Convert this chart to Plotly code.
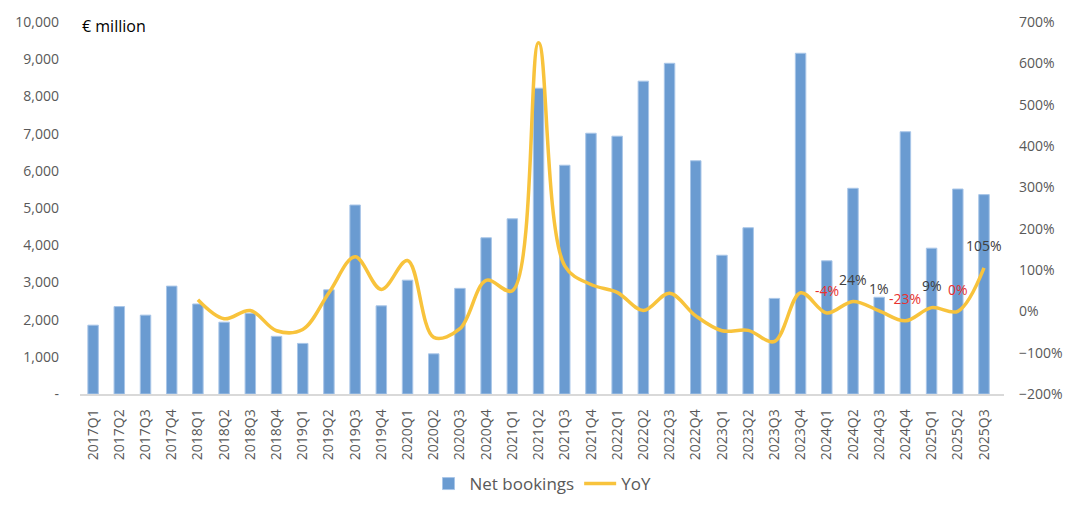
import plotly.graph_objects as go

quarters = [f"{y}Q{q}" for y in range(2017, 2026) for q in range(1, 5)][:35]

net_bookings = [1850, 2350, 2120, 2900,
                2420, 1930, 2170, 1550,
                1360, 2800, 5080, 2370,
                3060, 1080, 2840, 4200,
                4710, 8220, 6150, 7010,
                6930, 8410, 8890, 6270,
                3730, 4470, 2570, 9160,
                3580, 5530, 2600, 7050,
                3920, 5510, 5360]

yoy_quarters = quarters[4:]
yoy = [0.28, -0.18, 0.02, -0.47,
       -0.44, 0.45, 1.32, 0.53,
       1.23, -0.63, -0.42, 0.75,
       0.50, 6.50, 1.10, 0.65,
       0.46, 0.02, 0.44, -0.11,
       -0.47, -0.46, -0.73, 0.45,
       -0.04, 0.24, 0.01, -0.23,
       0.09, 0.00, 1.05]

label_quarters = ["2024Q1", "2024Q2", "2024Q3", "2024Q4", "2025Q1", "2025Q2", "2025Q3"]
label_values = [-0.04, 0.24, 0.01, -0.23, 0.09, 0.00, 1.05]
label_texts = ["-4%", "24%", "1%", "-23%", "9%", "0%", "105%"]

left_ticks = list(range(0, 10001, 1000))
left_ticktext = ["-"] + [f"{v:,}" for v in left_ticks[1:]]

BLUE = "#6A9BD1"
GOLD = "#F8C33C"
RED = "#E8322F"
GRAY = "#595959"
FONT = "Open Sans"

fig = go.Figure()
fig.add_trace(go.Bar(
    x=quarters, y=net_bookings, name="Net bookings",
    marker=dict(color=BLUE, line=dict(color="#A9C6E8", width=1)),
    yaxis="y",
))
fig.add_trace(go.Scatter(
    x=yoy_quarters, y=yoy, name="YoY", mode="lines",
    line=dict(color=GOLD, width=3.5, shape="spline", smoothing=1.0),
    yaxis="y2",
))

for q, v, t in zip(label_quarters, label_values, label_texts):
    color = RED if t.startswith("-") or t == "0%" else "#404040"
    fig.add_annotation(
        x=q, y=v, xref="x", yref="y2", text=t, showarrow=False,
        yshift=22, font=dict(family=FONT, size=14, color=color),
    )

fig.add_annotation(
    x=0, y=1.0, xref="paper", yref="paper", xanchor="left", yanchor="middle",
    text="€ million", showarrow=False, yshift=-4,
    font=dict(family=FONT, size=16, color="#000000"),
)

fig.update_layout(
    width=1080, height=506,
    margin=dict(l=80, r=76, t=22, b=112, autoexpand=False),
    plot_bgcolor="white", paper_bgcolor="white",
    bargap=0.6,
    font=dict(family=FONT, size=14, color=GRAY),
    showlegend=True,
    legend=dict(orientation="h", x=0.5, xanchor="center",
                yref="container", y=22 / 506, yanchor="middle",
                font=dict(family=FONT, size=17, color=GRAY), itemwidth=32),
    xaxis=dict(
        type="category", tickangle=-90, showgrid=False,
        showline=True, linecolor="#D9D9D9", linewidth=1.5,
        ticks="", ticklabelstandoff=8, automargin=False,
        tickfont=dict(family=FONT, size=14, color=GRAY),
    ),
    yaxis=dict(
        range=[0, 10000], tickvals=left_ticks, ticktext=left_ticktext,
        showgrid=False, zeroline=False, showline=False, ticks="",
        ticklabelstandoff=20, automargin=False,
        tickfont=dict(family=FONT, size=14, color=GRAY),
    ),
    yaxis2=dict(
        overlaying="y", side="right", range=[-2, 7], dtick=1,
        tickformat=".0%", showgrid=False, zeroline=False, showline=False,
        ticks="", ticklabelstandoff=14, automargin=False,
        tickfont=dict(family=FONT, size=14, color=GRAY),
    ),
)

fig.write_html("out.html")
